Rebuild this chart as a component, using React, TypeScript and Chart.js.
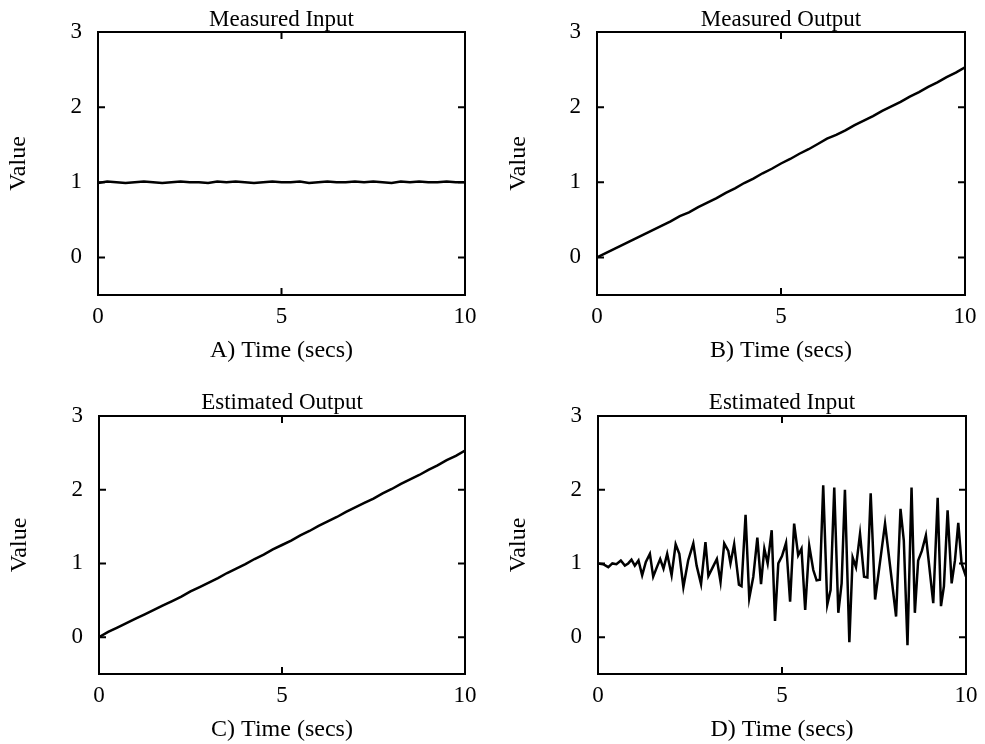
import React, { useEffect, useRef } from "react";
import { Chart, registerables } from "chart.js";

Chart.register(...registerables);

// ---------- data ----------
const xTicks = [0, 5, 10];
const xTickLabels = ["0", "5", "10"];
const yTicks = [0, 1, 2, 3];
const yTickLabels = ["0", "1", "2", "3"];
const xMin = 0;
const xMax = 10;
const yMin = -0.5;
const yMax = 3;

const panelTitles = ["Measured Input", "Measured Output", "Estimated Output", "Estimated Input"];
const xAxisTitles = ["A) Time (secs)", "B) Time (secs)", "C) Time (secs)", "D) Time (secs)"];
const yAxisTitle = "Value";

const smoothTimes = [
  0, 0.25, 0.5, 0.75, 1, 1.25, 1.5, 1.75, 2, 2.25, 2.5, 2.75, 3, 3.25, 3.5, 3.75, 4, 4.25, 4.5, 4.75, 5,
  5.25, 5.5, 5.75, 6, 6.25, 6.5, 6.75, 7, 7.25, 7.5, 7.75, 8, 8.25, 8.5, 8.75, 9, 9.25, 9.5, 9.75, 10,
];

const measuredInput = [
  0.99, 1.01, 1.0, 0.99, 1.0, 1.01, 1.0, 0.99, 1.0, 1.01, 1.0, 1.0, 0.99, 1.01, 1.0, 1.01, 1.0, 0.99, 1.0, 1.01, 1.0,
  1.0, 1.01, 0.99, 1.0, 1.01, 1.0, 1.0, 1.01, 1.0, 1.01, 1.0, 0.99, 1.01, 1.0, 1.01, 1.0, 1.0, 1.01, 1.0, 1.0,
];

const measuredOutput = [
  0.0, 0.06, 0.12, 0.18, 0.24, 0.3, 0.36, 0.42, 0.48, 0.55, 0.6, 0.67, 0.73, 0.79, 0.86, 0.92, 0.99, 1.05, 1.12, 1.18, 1.25,
  1.31, 1.38, 1.44, 1.51, 1.58, 1.63, 1.69, 1.76, 1.82, 1.88, 1.95, 2.01, 2.07, 2.14, 2.2, 2.27, 2.33, 2.4, 2.46, 2.53,
];

const estimatedOutput = [
  0.0, 0.07, 0.13, 0.19, 0.25, 0.31, 0.37, 0.43, 0.49, 0.55, 0.62, 0.68, 0.74, 0.8, 0.87, 0.93, 0.99, 1.06, 1.12, 1.19, 1.25,
  1.31, 1.38, 1.44, 1.51, 1.57, 1.63, 1.7, 1.76, 1.82, 1.88, 1.95, 2.01, 2.08, 2.14, 2.2, 2.27, 2.33, 2.4, 2.46, 2.53,
];

const estInputTimes = [
  0.0, 0.14, 0.28, 0.39, 0.5, 0.62, 0.73, 0.82, 0.91, 1.0, 1.1, 1.2, 1.3, 1.41, 1.5, 1.6, 1.69, 1.78, 1.88, 2.0,
  2.11, 2.21, 2.32, 2.45, 2.59, 2.68, 2.8, 2.92, 3.0, 3.12, 3.23, 3.33, 3.43, 3.54, 3.6, 3.7, 3.83, 3.9, 4.01, 4.11,
  4.22, 4.33, 4.43, 4.52, 4.61, 4.72, 4.81, 4.9, 5.0, 5.11, 5.22, 5.33, 5.44, 5.53, 5.63, 5.74, 5.85, 5.94, 6.03, 6.12,
  6.23, 6.32, 6.42, 6.53, 6.62, 6.71, 6.83, 6.92, 7.01, 7.12, 7.23, 7.32, 7.41, 7.53, 7.8, 8.1, 8.22, 8.31, 8.41, 8.52,
  8.61, 8.7, 8.8, 8.91, 9.11, 9.23, 9.32, 9.4, 9.5, 9.61, 9.7, 9.79, 9.88, 10.0,
];

const estInputValues = [
  1.0, 0.99, 0.95, 1.0, 0.99, 1.04, 0.97, 1.0, 1.05, 0.97, 1.04, 0.84, 1.02, 1.13, 0.82, 0.95, 1.06, 0.93, 1.13, 0.84,
  1.26, 1.13, 0.68, 1.04, 1.27, 0.97, 0.72, 1.29, 0.83, 0.95, 1.06, 0.75, 1.27, 1.17, 1.0, 1.26, 0.71, 0.69, 1.66, 0.53,
  0.82, 1.35, 0.72, 1.2, 1.0, 1.45, 0.22, 1.0, 1.1, 1.28, 0.48, 1.54, 1.11, 1.2, 0.37, 1.24, 0.91, 0.77, 0.78, 2.06,
  0.44, 0.64, 2.03, 0.33, 0.73, 2.0, -0.07, 1.08, 0.95, 1.4, 0.82, 0.81, 1.95, 0.51, 1.54, 0.28, 1.74, 1.31, -0.11, 2.03,
  0.33, 1.04, 1.17, 1.38, 0.46, 1.89, 0.42, 0.69, 1.72, 0.73, 1.04, 1.55, 1.0, 0.82,
];

const panelTimes = [smoothTimes, smoothTimes, smoothTimes, estInputTimes];
const panelValues = [measuredInput, measuredOutput, estimatedOutput, estInputValues];

// ---------- layout (not data) ----------
type Layout = {
  left: number; top: number; w: number; h: number;
  l: number; r: number; t: number; b: number;
  titlePad: number; xTitlePad: number; yTitlePad: number; lineWidth: number;
};

const layouts: Layout[] = [
  { left: 0, top: 0, w: 499, h: 372, l: 98, r: 465, t: 32, b: 295, titlePad: 6, xTitlePad: 7, yTitlePad: 4, lineWidth: 2.5 },
  { left: 499, top: 0, w: 486, h: 372, l: 98, r: 466, t: 32, b: 295, titlePad: 6, xTitlePad: 7, yTitlePad: 5, lineWidth: 2.5 },
  { left: 0, top: 384, w: 499, h: 360, l: 99, r: 465, t: 32, b: 290, titlePad: 5, xTitlePad: 0, yTitlePad: 5, lineWidth: 2.5 },
  { left: 499, top: 384, w: 486, h: 360, l: 99, r: 467, t: 32, b: 290, titlePad: 5, xTitlePad: 0, yTitlePad: 5, lineWidth: 2.5 },
];

const FONT = "'Liberation Serif', 'DejaVu Serif', serif";

const inwardTicks = {
  id: "inwardTicks",
  afterDraw(chart: any) {
    const { ctx, chartArea: a, scales } = chart;
    const xs = scales.x;
    const ys = scales.y;
    const len = 7;
    ctx.save();
    ctx.strokeStyle = "#000";
    ctx.lineWidth = 2;
    ctx.beginPath();
    for (const v of yTicks) {
      const py = ys.getPixelForValue(v);
      ctx.moveTo(a.left, py);
      ctx.lineTo(a.left + len, py);
      ctx.moveTo(a.right, py);
      ctx.lineTo(a.right - len, py);
    }
    for (const v of xTicks) {
      const px = xs.getPixelForValue(v);
      ctx.moveTo(px, a.bottom);
      ctx.lineTo(px, a.bottom - len);
      ctx.moveTo(px, a.top);
      ctx.lineTo(px, a.top + len);
    }
    ctx.stroke();
    ctx.restore();
  },
};

function Panel({ idx }: { idx: number }) {
  const ref = useRef<HTMLCanvasElement | null>(null);
  const L = layouts[idx];

  useEffect(() => {
    if (!ref.current) return;
    const times = panelTimes[idx];
    const values = panelValues[idx];
    const data = times.map((t, i) => ({ x: t, y: values[i] }));
    const border = { display: true, color: "#000", width: 2 };

    const chart = new Chart(ref.current, {
      type: "line",
      data: {
        datasets: [
          {
            data,
            borderColor: "#000",
            borderWidth: L.lineWidth,
            pointRadius: 0,
            tension: 0,
            fill: false,
          },
        ],
      },
      options: {
        animation: false,
        responsive: false,
        devicePixelRatio: 1,
        layout: { padding: 0 },
        plugins: {
          legend: { display: false },
          title: { display: false },
          tooltip: { enabled: false },
        },
        scales: {
          x: {
            type: "linear",
            position: "bottom",
            min: xMin,
            max: xMax,
            afterBuildTicks: (s: any) => {
              s.ticks = xTicks.map((v) => ({ value: v }));
            },
            afterFit: (s: any) => {
              s.height = L.h - L.b;
            },
            ticks: {
              color: "#000",
              font: { family: FONT, size: 23 },
              padding: 0,
              maxRotation: 0,
              autoSkip: false,
              callback: (v: any) => xTickLabels[xTicks.indexOf(Number(v))] ?? "",
            },
            grid: { display: false },
            border,
            title: {
              display: true,
              text: xAxisTitles[idx],
              color: "#000",
              font: { family: FONT, size: 24 },
              padding: { top: 0, bottom: L.xTitlePad },
            },
          },
          x2: {
            type: "linear",
            position: "top",
            min: xMin,
            max: xMax,
            afterFit: (s: any) => {
              s.height = L.t;
            },
            ticks: { display: false },
            grid: { display: false },
            border,
            title: {
              display: true,
              text: panelTitles[idx],
              color: "#000",
              font: { family: FONT, size: 23 },
              padding: { top: L.titlePad, bottom: 0 },
            },
          },
          y: {
            type: "linear",
            position: "left",
            min: yMin,
            max: yMax,
            afterBuildTicks: (s: any) => {
              s.ticks = yTicks.map((v) => ({ value: v }));
            },
            afterFit: (s: any) => {
              s.width = L.l;
            },
            ticks: {
              color: "#000",
              font: { family: FONT, size: 23 },
              padding: 8,
              autoSkip: false,
              callback: (v: any) => yTickLabels[yTicks.indexOf(Number(v))] ?? "",
            },
            grid: { display: false },
            border,
            title: {
              display: true,
              text: yAxisTitle,
              color: "#000",
              font: { family: FONT, size: 24 },
              padding: { top: L.yTitlePad, bottom: 0 },
            },
          },
          y2: {
            type: "linear",
            position: "right",
            min: yMin,
            max: yMax,
            afterFit: (s: any) => {
              s.width = L.w - L.r;
            },
            ticks: { display: false },
            grid: { display: false },
            border,
          },
        },
      } as any,
      plugins: [inwardTicks],
    });
    return () => chart.destroy();
  }, [idx]);

  return (
    <div style={{ position: "absolute", left: L.left, top: L.top, width: L.w, height: L.h }}>
      <canvas ref={ref} width={L.w} height={L.h} style={{ display: "block", width: L.w, height: L.h }} />
    </div>
  );
}

export default function App() {
  return (
    <div style={{ position: "absolute", left: 0, top: 0, width: 985, height: 744, background: "#fff", overflow: "hidden" }}>
      {[0, 1, 2, 3].map((i) => (
        <Panel key={i} idx={i} />
      ))}
    </div>
  );
}
